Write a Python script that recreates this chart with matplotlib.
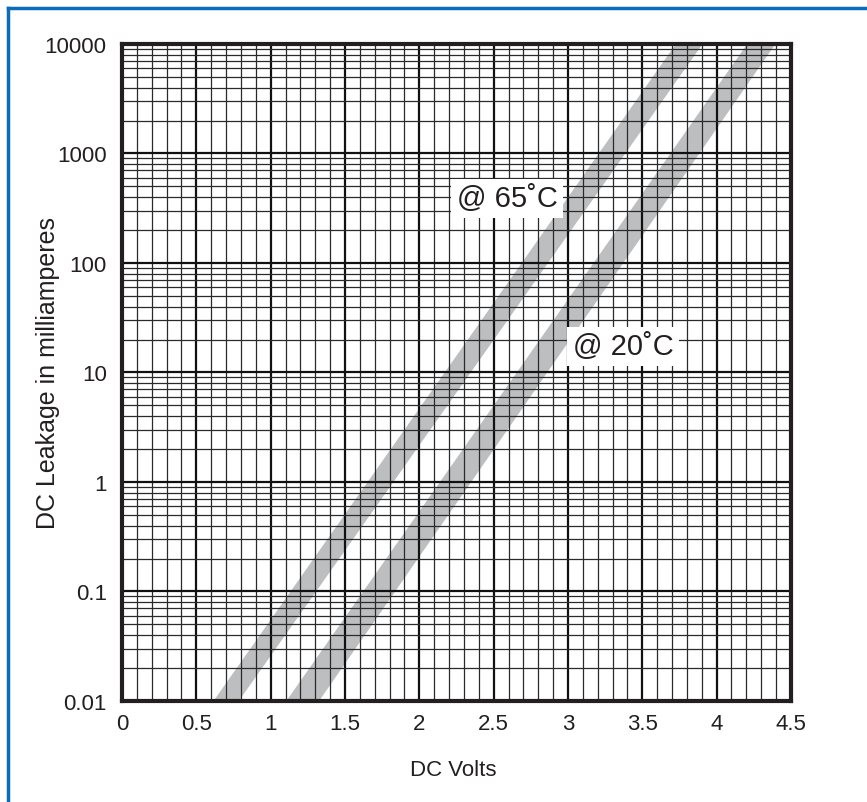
import numpy as np
import matplotlib
matplotlib.use("Agg")
import matplotlib.pyplot as plt
from matplotlib.ticker import MultipleLocator, LogLocator, FixedLocator, FixedFormatter, NullFormatter
from matplotlib.lines import Line2D

plt.rcParams['font.family'] = ['Liberation Sans', 'DejaVu Sans']

# leakage bands: voltage limits at the bottom and top of the current range
current_ma = [0.01, 10000]
volts_65_low = [0.61, 3.72]
volts_65_high = [0.78, 3.90]
volts_20_low = [1.10, 4.20]
volts_20_high = [1.32, 4.39]

band_labels = ["@ 65\u02daC", "@ 20\u02daC"]

y_ticks = [0.01, 0.1, 1, 10, 100, 1000, 10000]
y_ticklabels = ["0.01", "0.1", "1", "10", "100", "1000", "10000"]
x_ticks = [0, 0.5, 1, 1.5, 2, 2.5, 3, 3.5, 4, 4.5]
x_ticklabels = ["0", "0.5", "1", "1.5", "2", "2.5", "3", "3.5", "4", "4.5"]

band_color = "#bcbec0"
blue = "#0b6db7"

fig = plt.figure(figsize=(8.67, 8.03), dpi=100)
ax = fig.add_axes([0.1407, 0.1258, 0.7716, 0.8182])

ax.fill_betweenx(current_ma, volts_65_low, volts_65_high, color=band_color, lw=0, zorder=1)
ax.fill_betweenx(current_ma, volts_20_low, volts_20_high, color=band_color, lw=0, zorder=1)

ax.set_yscale('log')
ax.set_xlim(0, 4.5)
ax.set_ylim(0.01, 10000)

ax.xaxis.set_major_locator(FixedLocator(x_ticks))
ax.xaxis.set_major_formatter(FixedFormatter(x_ticklabels))
ax.xaxis.set_minor_locator(MultipleLocator(0.1))
ax.yaxis.set_major_locator(FixedLocator(y_ticks))
ax.yaxis.set_major_formatter(FixedFormatter(y_ticklabels))
ax.yaxis.set_minor_locator(LogLocator(base=10, subs=np.arange(2, 10)))
ax.yaxis.set_minor_formatter(NullFormatter())

ax.set_axisbelow(False)
ax.grid(which='major', color='#111111', lw=1.6)
ax.grid(which='minor', color='#2a2a2a', lw=0.9)

ax.tick_params(which='both', length=0, labelsize=16, colors='#231f20')
ax.tick_params(axis='y', pad=11)
ax.tick_params(axis='x', pad=9)

for s in ax.spines.values():
    s.set_linewidth(3)
    s.set_color('#231f20')
    s.set_zorder(4)

ax.set_xlabel("DC Volts", fontsize=16, color='#231f20', va='center')
ax.xaxis.set_label_coords(0.4955, -0.1036)
ax.set_ylabel("DC Leakage in milliamperes", fontsize=18, color='#231f20', va='center')
ax.yaxis.set_label_coords(-0.1106, 0.5007)

box = dict(boxstyle='square,pad=0.18', fc='white', ec='none')
ax.text(0.5755, 0.7648, band_labels[0], transform=ax.transAxes, fontsize=21,
        ha='center', va='center', bbox=box, zorder=5, color='#231f20')
ax.text(0.749, 0.5396, band_labels[1], transform=ax.transAxes, fontsize=21,
        ha='center', va='center', bbox=box, zorder=5, color='#231f20')

# blue frame on the top and left edges
fig.add_artist(Line2D([0.0098, 1.0], [0.9893, 0.9893], transform=fig.transFigure, color=blue, lw=2.5))
fig.add_artist(Line2D([0.0098, 0.0098], [0.0, 0.9893], transform=fig.transFigure, color=blue, lw=2.5))

fig.savefig('out.png', dpi=100)
